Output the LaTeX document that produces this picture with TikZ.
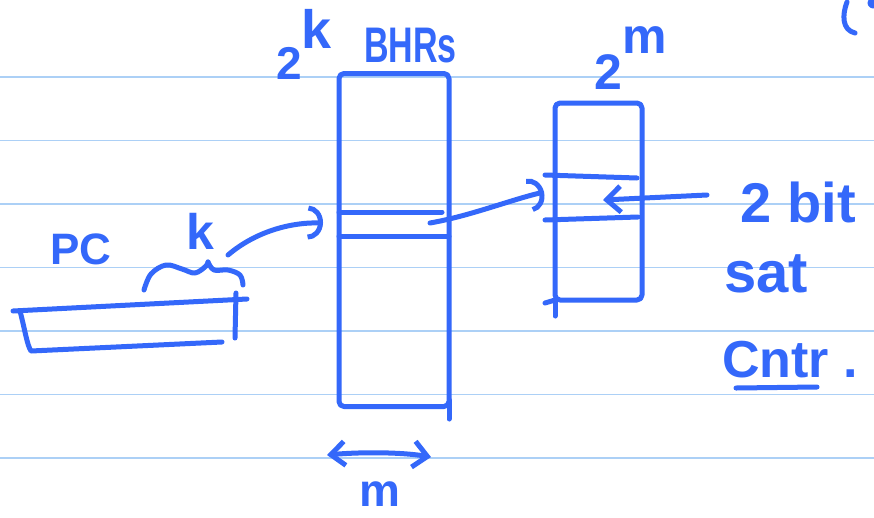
\documentclass[tikz,border=0pt]{standalone}
\usepackage{fontspec}
\setmainfont{Liberation Sans}
\usetikzlibrary{arrows.meta}
\definecolor{ink}{RGB}{52,104,250}
\definecolor{rulecol}{RGB}{172,208,246}
\begin{document}
\begin{tikzpicture}[x=1pt,y=-1pt,
  ink/.style={draw=ink,line width=5pt,line cap=round,line join=round},
  ruleline/.style={draw=rulecol,line width=1.6pt},
  table/.style={ink,rectangle,rounded corners=5pt,inner sep=0pt,outer sep=0pt},
  hand/.style={text=ink,inner sep=0pt,font=\bfseries\fontsize{#1}{#1}\selectfont},
  hook/.style={-{Arc Barb[length=15pt,width=34pt]}},
  barb/.style={-{Straight Barb[length=14pt,width=26pt]}},
  twobarb/.style={{Straight Barb[length=14pt,width=24pt]}-{Straight Barb[length=14pt,width=26pt]}}]
% page and ruled lines
\fill[white] (0,0) rectangle (874,517);
\useasboundingbox (0,0) rectangle (874,517);
\foreach \y in {77,140.5,204,267.5,331,394.5,458}
  \draw[ruleline] (0,\y) -- (874,\y);

% BHR table
\node[table,minimum width=110pt,minimum height=333pt] (bhr) at (394,240) {};
\draw[ink] (bhr.west |- 0,212) -- (442,212);
\draw[ink] (bhr.west |- 0,236) -- (bhr.east |- 0,236);
\draw[ink] (bhr.east |- 0,400) -- (449,419);

% pattern history table
\node[table,minimum width=87pt,minimum height=197pt] (pht) at (598.5,201.5) {};
\draw[ink] (545,175) -- (637,178);
\draw[ink] (545,220) -- (638,217);
\draw[ink] (pht.south west) -- ++(0,16);
\draw[ink] (pht.south west) -- ++(-10,3);

% PC register
\draw[ink] (13,311) -- (247,299);
\draw[ink] (20,311) .. controls (25,330) and (27,345) .. (31,351) -- (222,342);
\draw[ink] (236,293) -- (235,338);
% brace over the k index bits
\draw[ink] plot[smooth,tension=0.6] coordinates
  {(144,290) (151,274) (166,265) (182,269) (195,273) (206,266) (208,262)};
\draw[ink] plot[smooth,tension=0.6] coordinates
  {(208,262) (214,270) (228,270) (240,275) (243,285)};

% labels
\node[hand=44,anchor=base west] (pclab) at (50,264) {PC};
\node[hand=50,anchor=base west] (klab) at (186,249) {k};
\node[hand=46,anchor=base west] (bhrsize) at (276,79)
  {2\raisebox{31pt}{\fontsize{54}{54}\selectfont k}};
\node[hand=50,anchor=base west] (bhrlab) at (364,62) {\scalebox{0.68}[1]{BHRs}};
\node[hand=50,anchor=base west] (phtsize) at (594,89)
  {2\raisebox{36pt}{\fontsize{50}{50}\selectfont m}};
\node[hand=46,anchor=base west] (mlab) at (359,506) {m};
\node[hand=56,anchor=base west] (ctr1) at (740,222) {2\kern16pt bit};
\node[hand=58,anchor=base west] (ctr2) at (724,292) {sat};
\node[hand=52,anchor=base west] (ctr3) at (722,377) {Cntr\kern14pt.};
\draw[ink] (736,388) -- (817,387);

% connectors
\coordinate (kfrom) at (228,255);
\coordinate (bhrin) at (323,223);
\coordinate (bhrsel) at (430,223);
\coordinate (phtin) at (544,192);
\coordinate (ctrfrom) at (707,195);
\coordinate (phtsel) at (603,200);
\draw[ink,hook] (kfrom) .. controls (255,232) and (290,222) .. (bhrin);
\draw[ink,hook] (bhrsel) .. controls (470,216) and (510,200) .. (phtin);
\draw[ink,barb] (ctrfrom) -- (phtsel);
\coordinate (wl) at (327,455);
\coordinate (wr) at (431,457);
\draw[ink,twobarb] (wl) .. controls (360,452) and (400,452) .. (wr);

% stroke cut off at the top edge
\draw[ink] (847,2) .. controls (842,15) and (842,30) .. (855,33);
\fill[ink] (873,3) circle (3pt);
\end{tikzpicture}
\end{document}
